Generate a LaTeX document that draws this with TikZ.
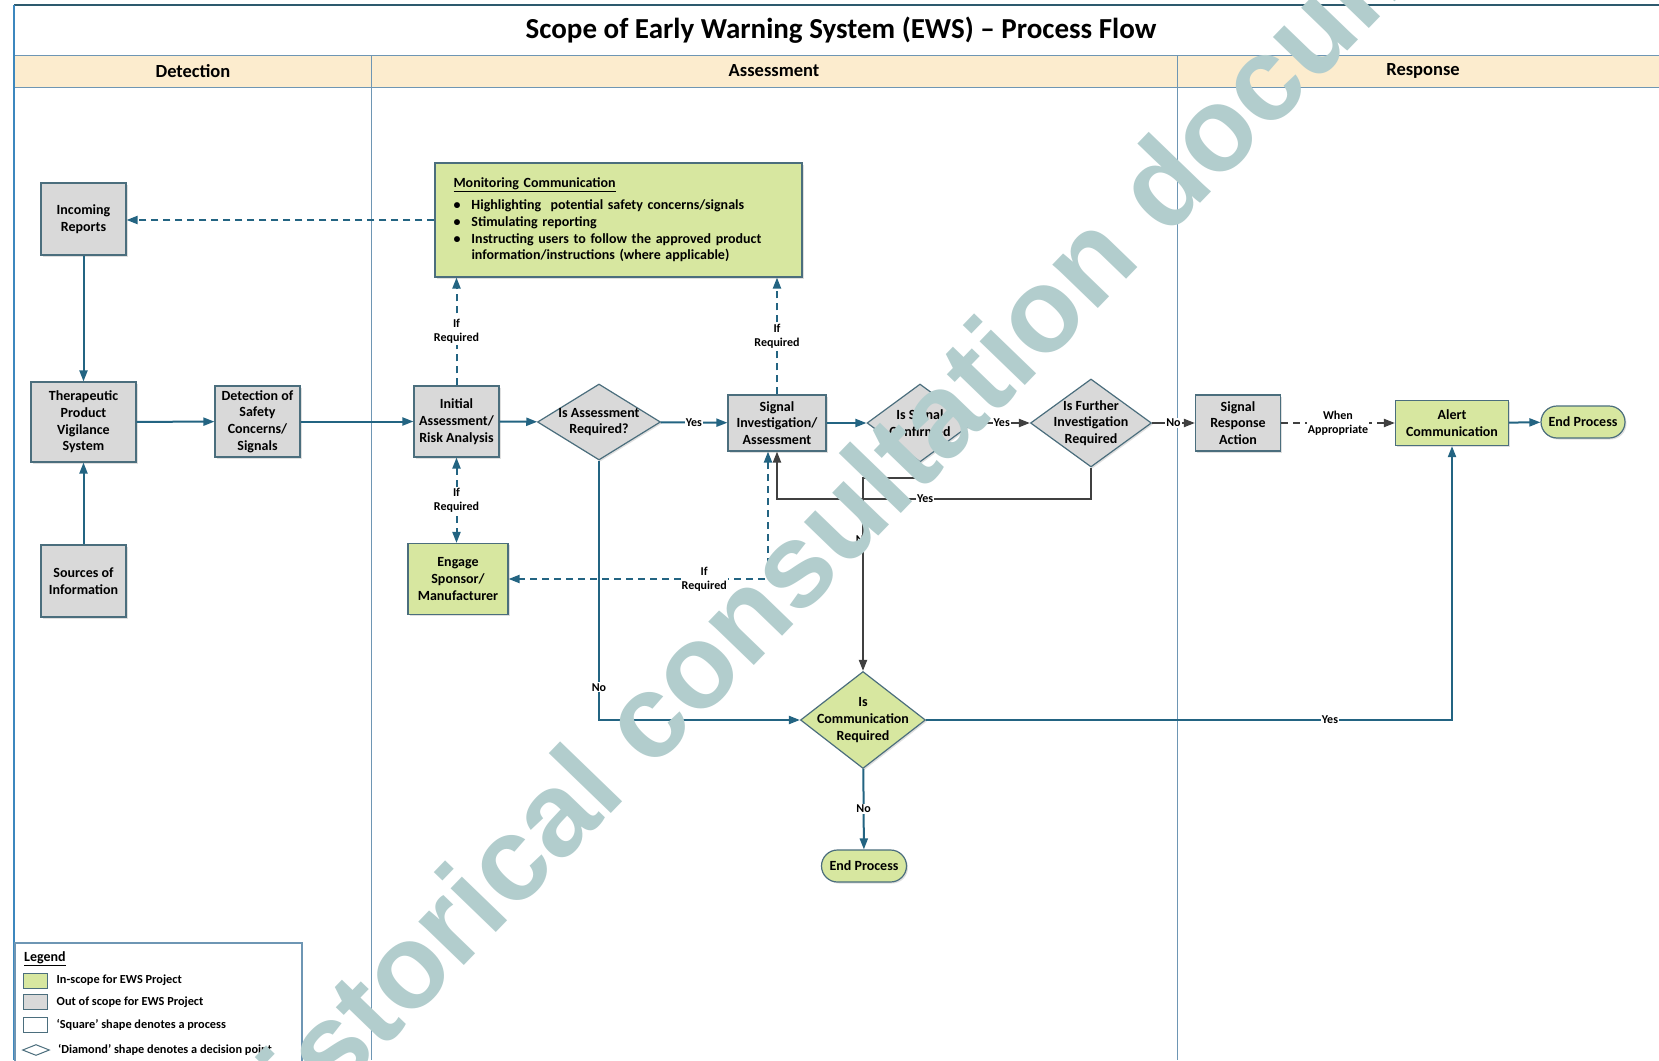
\documentclass[tikz,border=0pt]{standalone}
\usepackage{fontspec}
\setmainfont{Carlito}
\newfontfamily\wmfont{Liberation Sans}
\usetikzlibrary{positioning, arrows.meta, calc, shapes.geometric, shadows}

\definecolor{lineblue}{RGB}{35,100,130}
\definecolor{linegrey}{RGB}{64,64,64}
\definecolor{boxedge}{RGB}{75,110,125}
\definecolor{boxgrey}{RGB}{217,217,217}
\definecolor{boxgreen}{RGB}{215,231,160}
\definecolor{bandtan}{RGB}{252,236,206}
\definecolor{frameblue}{RGB}{60,135,190}
\definecolor{framedark}{RGB}{45,90,110}
\definecolor{lanegrey}{RGB}{110,150,180}
\definecolor{wmteal}{RGB}{178,205,205}

\begin{document}
\begin{tikzpicture}[x=1pt, y=-1pt, >={Triangle[length=11pt, width=8pt]},
	boxtext/.style={font=\fontsize{14}{16.7}\selectfont\bfseries, align=center},
	outscope/.style={boxtext, draw=boxedge, line width=1.2pt, fill=boxgrey, inner sep=1pt,
		drop shadow={shadow xshift=1.5pt, shadow yshift=-1.5pt, opacity=0.25}},
	inscope/.style={outscope, fill=boxgreen},
	decision/.style={shape=diamond, draw=boxedge, line width=1.2pt, fill=boxgrey, inner sep=0pt,
		drop shadow={shadow xshift=1.5pt, shadow yshift=-1.5pt, opacity=0.25}},
	dectext/.style={boxtext, inner sep=0pt},
	terminal/.style={inscope, rounded corners=16pt, minimum width=84pt, minimum height=32pt},
	flow/.style={draw=lineblue, line width=2pt, ->},
	flowdark/.style={draw=linegrey, line width=2pt, ->},
	optional/.style={flow, dash pattern=on 7pt off 5pt},
	tag/.style={font=\fontsize{12}{14.3}\selectfont\bfseries, fill=white, inner sep=1pt, align=center},
	lane/.style={draw=lanegrey, line width=1pt},
	legendtext/.style={font=\fontsize{12.3}{14}\selectfont\bfseries, anchor=west, inner sep=0pt}
	]
	
	% Lienzo en pixeles de la figura original
	\def\Wpic{1659}
	\def\Hpic{1060}
	\useasboundingbox (0,0) rectangle (\Wpic,\Hpic);
	\clip (0,0) rectangle (\Wpic,\Hpic);
	\fill[white] (0,0) rectangle (\Wpic,\Hpic);
	
	% --- 1. MARCO, TITULO Y CARRILES ---
	\def\Xleft{14}      % Borde izquierdo del marco
	\def\Yrow{55}       % Inicio de la banda de cabecera
	\def\Yband{87}      % Fin de la banda de cabecera
	\def\XlaneA{371}    % Deteccion | Evaluacion
	\def\XlaneB{1177}   % Evaluacion | Respuesta
	
	\fill[bandtan] (\Xleft,\Yrow) rectangle (\Wpic,\Yband);
	\draw[framedark, line width=1.5pt] (\Xleft,5) -- (\Wpic,5);
	\draw[lane] (\Xleft,\Yrow) -- (\Wpic,\Yrow);
	\draw[lane] (\Xleft,\Yband) -- (\Wpic,\Yband);
	\draw[lane] (\XlaneA,\Yrow) -- (\XlaneA,\Hpic);
	\draw[lane] (\XlaneB,\Yrow) -- (\XlaneB,\Hpic);
	\draw[frameblue, line width=2pt] (\Xleft,5) -- (\Xleft,\Hpic);
	
	\node[font=\fontsize{29}{34}\selectfont\bfseries] (title) at (841,30) {Scope of Early Warning System (EWS) – Process Flow};
	\node[font=\fontsize{18.5}{22}\selectfont\bfseries] (hd-det) at (193,71) {Detection};
	\node[font=\fontsize{18.5}{22}\selectfont\bfseries] (hd-ass) at (774,71) {Assessment};
	\node[font=\fontsize{18.5}{22}\selectfont\bfseries] (hd-res) at (1423,71) {Response};
	
	% --- 2. DETECCION ---
	\node[outscope, minimum width=85pt, minimum height=72pt] (inc) at (83.5,219) {Incoming\\Reports};
	\node[outscope, minimum width=105pt, minimum height=80pt] (tpv) at (83.5,422) {Therapeutic\\Product\\Vigilance\\System};
	\node[outscope, minimum width=85pt, minimum height=71pt] (det) at (257.5,421.5) {Detection of\\Safety\\Concerns/\\Signals};
	\node[outscope, minimum width=85pt, minimum height=72pt] (src) at (83.5,581) {Sources of\\Information};
	
	% --- 3. EVALUACION ---
	\node[inscope, minimum width=367pt, minimum height=114pt, text width=330pt, align=left] (mon) at (618.5,220)
	{\underline{Monitoring Communication}\\[5pt]
		\makebox[18pt][l]{\textbullet}Highlighting\ \ potential safety concerns/signals\\
		\makebox[18pt][l]{\textbullet}Stimulating reporting\\
		\makebox[18pt][l]{\textbullet}Instructing users to follow the approved product\\
		\hspace*{18pt}information/instructions (where applicable)};
	
	\node[outscope, minimum width=85pt, minimum height=71pt] (ira) at (456.5,421.5) {Initial\\Assessment/\\Risk Analysis};
	\node[decision, minimum width=123pt, minimum height=76pt] (iar) at (599,422) {};
	\node[dectext] (iar-t) at (iar) {Is Assessment\\Required?};
	\node[outscope, minimum width=98pt, minimum height=56pt] (sia) at (777,423) {Signal\\Investigation/\\Assessment};
	\node[decision, minimum width=106pt, minimum height=78pt] (isc) at (920,423) {};
	\node[dectext] (isc-t) at (isc) {Is Signal\\Confirmed};
	\node[decision, minimum width=121pt, minimum height=88pt] (ifr) at (1091,423) {};
	\node[dectext] (ifr-t) at (ifr) {Is Further\\Investigation\\Required};
	\node[inscope, minimum width=100pt, minimum height=71pt] (eng) at (458,579) {Engage\\Sponsor/\\Manufacturer};
	\node[decision, fill=boxgreen, minimum width=125pt, minimum height=97pt] (icr) at (863,720) {};
	\node[dectext] (icr-t) at (icr) {Is\\Communication\\Required};
	\node[terminal, minimum width=85pt] (end2) at (864,866) {End Process};
	
	% --- 4. RESPUESTA ---
	\node[outscope, minimum width=85pt, minimum height=56pt] (sra) at (1238,423) {Signal\\Response\\Action};
	\node[inscope, minimum width=113pt, minimum height=45pt] (alc) at (1452,423) {Alert\\Communication};
	\node[terminal] (end1) at (1583,422) {End Process};
	
	% --- 5. CONECTORES ---
	\draw[optional] (mon.west) -- (mon.west -| inc.east);
	\draw[flow] (inc) -- (tpv);
	\draw[flow] (src) -- (tpv);
	\draw[flow] (tpv) -- (det);
	\draw[flow] (det) -- (ira);
	\draw[flow] (ira) -- (iar);
	\draw[flow] (iar) -- node[tag] {Yes} (sia);
	\draw[flow] (sia) -- (isc);
	\draw[flowdark] (isc) -- node[tag] {Yes} (ifr);
	\draw[flowdark] (ifr) -- node[tag] {No} (sra);
	\draw[flowdark, dash pattern=on 7pt off 5pt] (sra) -- node[tag] {When\\Appropriate} (alc);
	\draw[flow] (alc) -- (end1);
	
	% Rutas opcionales (si se requiere)
	\draw[optional] (ira.north) -- node[tag] {If\\Required} (ira.north |- mon.south);
	\draw[optional] (sia.north) -- node[tag] {If\\Required} (sia.north |- mon.south);
	\draw[optional, <->] (ira.south) -- node[tag] {If\\Required} (ira.south |- eng.north);
	\draw[optional, <->] ($(sia.south)+(-9,0)$) |- node[tag, pos=0.623] {If\\Required} (eng.east);
	
	% Bucles de decision
	\draw[flowdark] (isc.south) -- ++(0,15) -| node[tag, pos=0.66] {No} (icr.north);
	\draw[flowdark] (ifr.south) -- ++(0,31) -| node[tag, pos=0.264] {Yes} (sia.south);
	\draw[flow] (iar.south) |- node[tag, pos=0.437] {No} (icr.west);
	\draw[flow] (icr.east) -| node[tag, pos=0.384] {Yes} (alc.south);
	\draw[flow] (icr) -- node[tag] {No} (end2);
	
	% --- 6. LEYENDA ---
	\draw[draw=lanegrey, line width=1.2pt, fill=white] (15,943) rectangle (302,1070);
	\node[font=\fontsize{14}{16}\selectfont\bfseries, anchor=west, inner sep=0pt] (lg-title) at (24,959) {\underline{Legend}};
	\node[draw=boxedge, line width=1pt, fill=boxgreen, minimum width=24pt, minimum height=15pt, inner sep=0pt] (lg-in) at (35,980.5) {};
	\node[draw=boxedge, line width=1pt, fill=boxgrey, minimum width=24pt, minimum height=15pt, inner sep=0pt] (lg-out) at (35,1002) {};
	\node[draw=boxedge, line width=1pt, fill=white, minimum width=24pt, minimum height=15pt, inner sep=0pt] (lg-proc) at (35,1024.5) {};
	\node[shape=diamond, draw=boxedge, line width=1pt, fill=white, minimum width=27pt, minimum height=11pt, inner sep=0pt] (lg-dec) at (36,1050) {};
	\node[legendtext, right=9pt of lg-in] (lg-in-t) {In-scope for EWS Project};
	\node[legendtext, right=9pt of lg-out] (lg-out-t) {Out of scope for EWS Project};
	\node[legendtext, right=9pt of lg-proc] (lg-proc-t) {‘Square’ shape denotes a process};
	\node[legendtext, right=8pt of lg-dec] (lg-dec-t) {‘Diamond’ shape denotes a decision point};
	
	% --- 7. MARCA DE AGUA ---
	\node[rotate=46, text=wmteal, inner sep=0pt, font=\wmfont\bfseries\fontsize{119}{126}\selectfont] (wm) at (876,478) {Historical consultation document};
	
\end{tikzpicture}
\end{document}
